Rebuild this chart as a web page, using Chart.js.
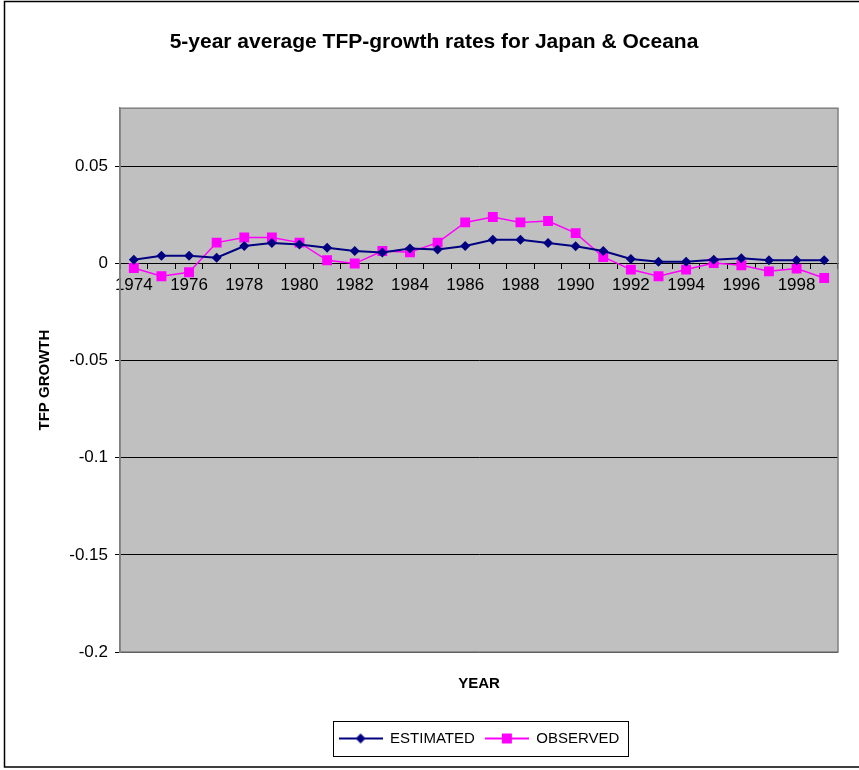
<!DOCTYPE html>
<html>
<head>
<meta charset="utf-8">
<title>5-year average TFP-growth rates for Japan & Oceana</title>
<script src="https://cdn.jsdelivr.net/npm/chart.js@4/dist/chart.umd.min.js"></script>
<style>
  html, body { margin: 0; padding: 0; background: #fff; }
  canvas { display: block; }
</style>
</head>
<body>
<canvas id="Chart" width="859" height="770"></canvas>
<script>
// years on the category axis
let years = ['1974','1975','1976','1977','1978','1979','1980','1981','1982','1983','1984','1985','1986',
             '1987','1988','1989','1990','1991','1992','1993','1994','1995','1996','1997','1998','1999'];

// values
let estimated = [0.002, 0.004, 0.004, 0.003, 0.009, 0.0106, 0.0098, 0.0082, 0.0065, 0.0057, 0.0077, 0.0073, 0.009,
                 0.0123, 0.0123, 0.0106, 0.0089, 0.0065, 0.0024, 0.001, 0.001, 0.002, 0.0027, 0.0017, 0.0017, 0.0017];
let observed = [-0.0023, -0.0065, -0.0045, 0.0108, 0.0134, 0.0134, 0.0108, 0.0017, 0.0, 0.0065, 0.0058, 0.0108, 0.0212,
                0.024, 0.0212, 0.0219, 0.0157, 0.0034, -0.0031, -0.0065, -0.0031, 0.0003, -0.0009, -0.004, -0.0026, -0.0074];

let yMin = -0.2;
let yMax = 0.08;
let yStep = 0.05;

const FONT = "'Liberation Sans', Arial, sans-serif";

// little legend pictures: a line with the marker in the middle
function legendIcon(color, shape){
  let c = document.createElement('canvas');
  c.width = 44; c.height = 12;
  let g = c.getContext('2d');
  g.strokeStyle = color;
  g.lineWidth = 2;
  g.beginPath(); g.moveTo(0, 6); g.lineTo(44, 6); g.stroke();
  g.fillStyle = color;
  g.beginPath();
  if (shape === 'diamond'){
    g.moveTo(22, 1); g.lineTo(27, 6); g.lineTo(22, 11); g.lineTo(17, 6);
  } else {
    g.rect(17, 1, 10, 10);
  }
  g.closePath(); g.fill();
  return c;
}
let icons = [legendIcon('#000080', 'diamond'), legendIcon('#FF00FF', 'square')];

// grey plot area + outer frame + legend box
const framePlugin = {
  id: 'frame',
  afterLayout(chart){
    // centre the legend under the plot area, like the original
    // (the legend plugin re-places its hit boxes in afterUpdate)
    let lg = chart.legend;
    let a = chart.chartArea;
    lg.left = a.left;
    lg.right = a.right;
    lg.width = a.right - a.left;
  },
  beforeDraw(chart){
    let ctx = chart.ctx;
    let a = chart.chartArea;
    ctx.save();
    ctx.fillStyle = '#fff';
    ctx.fillRect(0, 0, chart.width, chart.height);
    ctx.fillStyle = '#C0C0C0';
    ctx.fillRect(a.left, a.top, a.right - a.left, a.bottom - a.top);
    ctx.strokeStyle = '#000';
    ctx.lineWidth = 1.5;
    ctx.strokeRect(4.5, 1.5, 900, 765.5);
    ctx.restore();
  },
  beforeDatasetsDraw(chart){
    let ctx = chart.ctx;
    let a = chart.chartArea;
    ctx.save();
    ctx.strokeStyle = '#808080';
    ctx.lineWidth = 1.5;
    ctx.strokeRect(a.left, a.top, a.right - a.left, a.bottom - a.top);
    ctx.restore();
  },
  afterDraw(chart){
    let boxes = chart.legend.legendHitBoxes;
    if (!boxes || !boxes.length) return;
    let left = Math.min(...boxes.map(b => b.left)) - 6;
    let right = Math.max(...boxes.map(b => b.left + b.width)) + 8;
    let top = Math.min(...boxes.map(b => b.top)) - 10;
    let bottom = Math.max(...boxes.map(b => b.top + b.height)) + 10;
    let ctx = chart.ctx;
    ctx.save();
    ctx.strokeStyle = '#000';
    ctx.lineWidth = 1;
    ctx.strokeRect(Math.round(left) + 0.5, Math.round(top) + 0.5, Math.round(right - left), Math.round(bottom - top));
    ctx.restore();
  }
};

let ctx = document.getElementById('Chart').getContext('2d');

let myChart = new Chart(ctx, {
  type: 'line',
  data: {
    labels: years,
    datasets: [{
      label: 'ESTIMATED',
      data: estimated,
      borderColor: '#000080',
      backgroundColor: '#000080',
      borderWidth: 2,
      pointStyle: 'rectRot',
      pointRadius: 5,
      pointBorderWidth: 0,
      tension: 0
    }, {
      label: 'OBSERVED',
      data: observed,
      borderColor: '#FF00FF',
      backgroundColor: '#FF00FF',
      borderWidth: 1.5,
      pointStyle: 'rect',
      pointRadius: 7,
      pointBorderWidth: 0,
      tension: 0
    }]
  },
  options: {
    responsive: false,
    animation: false,
    layout: { padding: { left: 30, right: 21, top: 0, bottom: 14 } },
    scales: {
      x: {
        type: 'category',
        position: { y: 0 },
        offset: true,
        grid: { display: true, offset: true, drawOnChartArea: false, drawTicks: true, tickLength: 5, color: '#000' },
        border: { display: true, color: '#000', width: 1 },
        ticks: {
          autoSkip: false, maxRotation: 0, minRotation: 0, padding: 7,
          color: '#000', font: { family: FONT, size: 17 },
          callback: (v, i) => i % 2 === 0 ? years[i] : ''
        }
      },
      x2: {
        type: 'category',
        position: 'bottom',
        offset: true,
        grid: { display: false },
        border: { display: false },
        ticks: { display: false },
        title: { display: true, text: 'YEAR', color: '#000', font: { family: FONT, size: 15, weight: 'bold' }, padding: { top: 15, bottom: 28 } }
      },
      y: {
        min: yMin,
        max: yMax,
        afterBuildTicks(scale){
          scale.ticks = scale.ticks.filter(t => Math.abs(t.value / yStep - Math.round(t.value / yStep)) < 1e-6);
        },
        afterFit(scale){ scale.width = 90; },
        grid: { color: '#000', lineWidth: 1, drawTicks: true, tickLength: 5 },
        border: { display: true, color: '#808080', width: 1.5 },
        ticks: {
          stepSize: yStep, padding: 7, color: '#000', font: { family: FONT, size: 17 },
          callback: v => String(Math.round(v * 100) / 100)
        },
        title: { display: true, text: 'TFP GROWTH', color: '#000', font: { family: FONT, size: 15, weight: 'bold' }, padding: { top: 6, bottom: 0 } }
      }
    },
    plugins: {
      title: {
        display: true,
        text: '5-year average TFP-growth rates for Japan & Oceana',
        color: '#000',
        font: { family: FONT, size: 21, weight: 'bold' },
        padding: { top: 30, bottom: 53 }
      },
      legend: {
        position: 'bottom',
        labels: {
          usePointStyle: true,
          pointStyleWidth: 44,
          padding: 10,
          color: '#000',
          font: { family: FONT, size: 15 },
          generateLabels(chart){
            let items = Chart.defaults.plugins.legend.labels.generateLabels(chart);
            items.forEach((it, i) => { it.pointStyle = icons[i]; });
            return items;
          }
        }
      },
      tooltip: { enabled: false }
    }
  },
  plugins: [framePlugin]
});
</script>
</body>
</html>
